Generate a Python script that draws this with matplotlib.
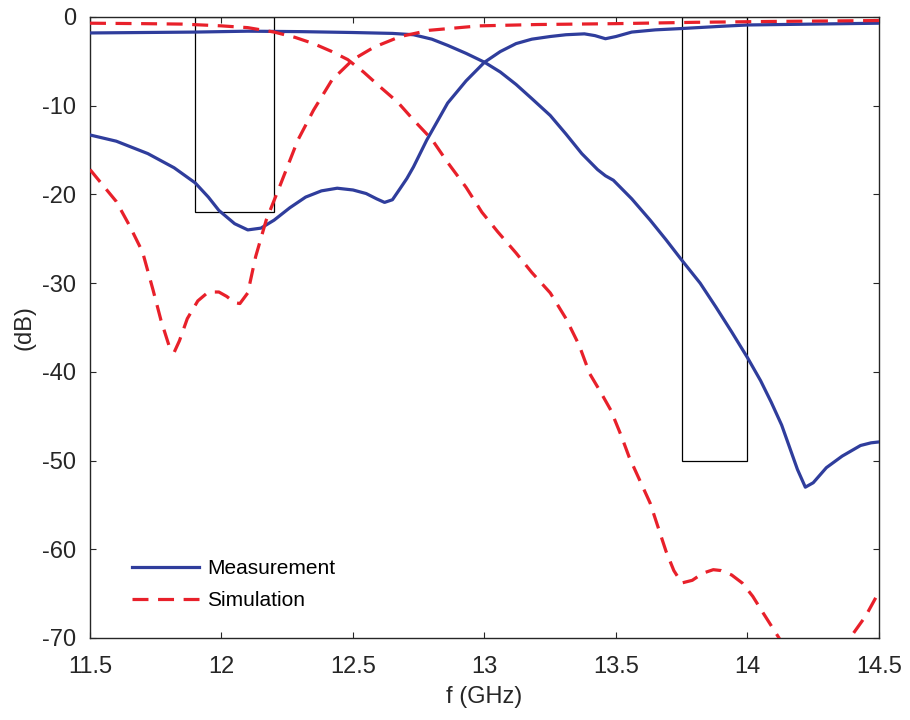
import numpy as np
import matplotlib
matplotlib.use('Agg')
import matplotlib.pyplot as plt
from matplotlib.patches import Rectangle

plt.rcParams['font.family'] = ['Liberation Sans', 'DejaVu Sans']
plt.rcParams['axes.unicode_minus'] = False

# measured S21
meas_s21_f = [11.5, 11.7, 11.9, 12.1, 12.3, 12.5, 12.65, 12.73, 12.8, 12.86, 12.93, 13.0,
              13.06, 13.12, 13.18, 13.25, 13.31, 13.37, 13.43, 13.46, 13.49, 13.56, 13.63,
              13.69, 13.75, 13.82, 13.88, 13.94, 14.0, 14.05, 14.09, 14.13, 14.16, 14.19,
              14.22, 14.25, 14.3, 14.36, 14.43, 14.47, 14.5]
meas_s21_db = [-1.8, -1.75, -1.7, -1.6, -1.65, -1.75, -1.85, -2.0, -2.5, -3.2, -4.1, -5.1,
               -6.2, -7.6, -9.2, -11.1, -13.2, -15.4, -17.2, -17.9, -18.4, -20.5, -22.9,
               -25.1, -27.4, -30.0, -32.7, -35.5, -38.4, -41.0, -43.4, -46.0, -48.5, -51.0,
               -53.0, -52.5, -50.8, -49.5, -48.3, -48.0, -47.9]

# measured S11
meas_s11_f = [11.5, 11.6, 11.72, 11.82, 11.9, 11.95, 11.99, 12.05, 12.1, 12.15, 12.2, 12.26,
              12.32, 12.38, 12.44, 12.5, 12.55, 12.59, 12.62, 12.65, 12.68, 12.705, 12.73,
              12.78, 12.82, 12.86, 12.93, 13.0, 13.06, 13.12, 13.18, 13.25, 13.31, 13.38,
              13.42, 13.46, 13.5, 13.56, 13.65, 13.75, 13.9, 14.0, 14.25, 14.5]
meas_s11_db = [-13.3, -14.0, -15.4, -17.0, -18.7, -20.3, -21.8, -23.3, -24.0, -23.8, -22.9,
               -21.5, -20.3, -19.6, -19.3, -19.5, -19.9, -20.5, -20.9, -20.6, -19.3, -18.2,
               -16.9, -13.9, -11.8, -9.7, -7.2, -5.1, -3.9, -3.0, -2.5, -2.2, -2.0, -1.9,
               -2.1, -2.45, -2.2, -1.7, -1.45, -1.3, -1.05, -0.9, -0.8, -0.7]

# simulated S21
sim_s21_f = [11.5, 11.7, 11.85, 12.0, 12.1, 12.2, 12.28, 12.35, 12.42, 12.48, 12.54, 12.6,
             12.67, 12.73, 12.8, 12.86, 12.93, 12.99, 13.05, 13.12, 13.18, 13.25, 13.31,
             13.36, 13.40, 13.44, 13.48, 13.52, 13.55, 13.59, 13.63, 13.66, 13.69, 13.72,
             13.75, 13.79, 13.83, 13.87, 13.9, 13.94, 13.98, 14.02, 14.06, 14.09, 14.12,
             14.18, 14.25, 14.32, 14.39, 14.45, 14.5]
sim_s21_db = [-0.7, -0.75, -0.8, -1.0, -1.2, -1.7, -2.3, -3.0, -3.9, -4.8, -6.2, -7.8,
              -9.6, -11.6, -13.8, -16.4, -19.2, -22.0, -24.2, -26.6, -28.8, -31.1, -34.0,
              -37.0, -40.2, -42.2, -44.3, -47.2, -49.6, -52.2, -54.8, -57.5, -60.2, -62.4,
              -63.8, -63.5, -62.7, -62.3, -62.4, -62.9, -63.8, -65.3, -67.2, -68.6, -70.0,
              -73.0, -75.0, -74.0, -70.0, -67.5, -64.8]

# simulated S11
sim_s11_f = [11.5, 11.55, 11.6, 11.65, 11.7, 11.74, 11.77, 11.8, 11.82, 11.84, 11.87, 11.91,
             11.95, 11.99, 12.02, 12.05, 12.07, 12.1, 12.13, 12.17, 12.22, 12.29, 12.35,
             12.42, 12.5, 12.58, 12.68, 12.79, 12.98, 13.2, 13.5, 13.8, 14.1, 14.5]
sim_s11_db = [-17.2, -19.0, -20.8, -23.5, -26.5, -30.8, -34.2, -37.0, -37.8, -36.5, -34.0,
              -32.0, -31.0, -31.0, -31.5, -32.2, -32.3, -31.1, -27.0, -22.9, -19.2, -13.9,
              -10.5, -7.1, -4.8, -3.4, -2.2, -1.5, -1.0, -0.85, -0.75, -0.6, -0.5, -0.4]

# spec masks: (f start, f stop, level)
mask_f0 = [11.9, 13.75]
mask_f1 = [12.2, 14.0]
mask_db = [-22, -50]

blue = '#2f3d9c'
red = '#e8202a'

fig = plt.figure(figsize=(9.1, 7.2), dpi=100)
ax = fig.add_axes([0.0989, 0.1139, 0.867, 0.8625])

ax.plot(meas_s21_f, meas_s21_db, color=blue, lw=2.3, label='Measurement', zorder=3)
ax.plot(sim_s21_f, sim_s21_db, color=red, lw=2.3, ls=(0, (5, 3)), label='Simulation', zorder=3)
ax.plot(meas_s11_f, meas_s11_db, color=blue, lw=2.3, zorder=3)
ax.plot(sim_s11_f, sim_s11_db, color=red, lw=2.3, ls=(0, (5, 3)), zorder=3)

for a, b, d in zip(mask_f0, mask_f1, mask_db):
    ax.add_patch(Rectangle((a, d), b - a, -d, fill=False, ec='black', lw=0.9, zorder=2))

ax.set_xlim(11.5, 14.5)
ax.set_ylim(-70, 0)
ax.set_xticks(np.arange(11.5, 14.51, 0.5))
ax.set_xticklabels(['11.5', '12', '12.5', '13', '13.5', '14', '14.5'])
ax.set_yticks(np.arange(-70, 1, 10))

for s in ax.spines.values():
    s.set_color('#262626')
    s.set_linewidth(1.0)
ax.tick_params(direction='in', length=4, width=0.8, colors='#262626', labelsize=17,
               top=True, right=True)
ax.tick_params(axis='x', pad=13)
ax.tick_params(axis='y', pad=10)

ax.set_xlabel('f (GHz)', fontsize=17, color='#262626', labelpad=6)
ax.set_ylabel('(dB)', fontsize=17, color='#262626', labelpad=5)

ax.legend(loc='lower left', bbox_to_anchor=(0.03, 0.015), frameon=False, fontsize=15,
          handlelength=3.2, handletextpad=0.4, labelspacing=0.6)

plt.savefig('out.png', dpi=100)
